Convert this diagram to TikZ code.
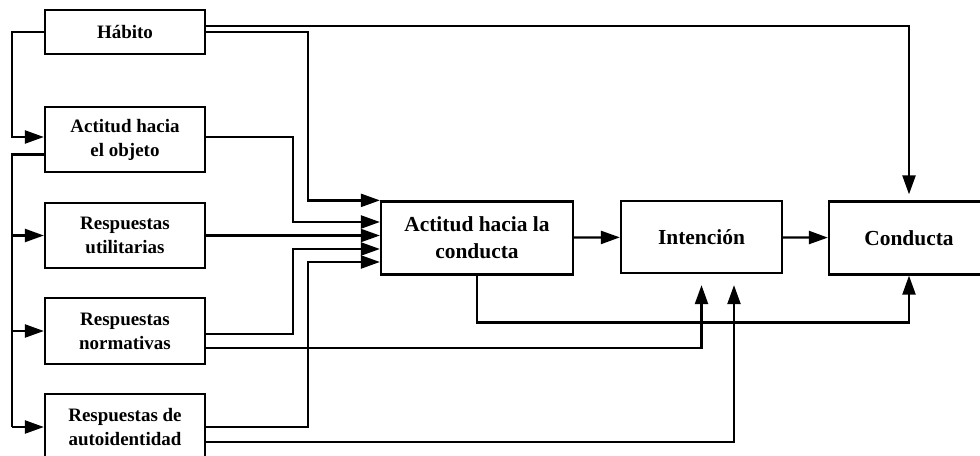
\documentclass[tikz,border=0pt]{standalone}
\usepackage{fontspec}
\setmainfont{Liberation Serif}
\usepackage{tikz}
\usetikzlibrary{arrows.meta, positioning, calc}

\begin{document}
\begin{tikzpicture}[x=0.02cm, y=-0.02cm,
    box/.style={draw, line width=1.3pt, align=center, inner sep=2pt, font=\bfseries},
    smallbox/.style={box, minimum width=3.2cm, minimum height=1.3cm, font=\fontsize{10.8}{13.6}\selectfont\bfseries},
    bigbox/.style={box, minimum height=1.46cm, font=\fontsize{12.2}{15.3}\selectfont\bfseries},
    arr/.style={line width=1.3pt, -{Triangle[length=0.38cm, width=0.26cm]}},
    line/.style={line width=1.3pt}]

    \useasboundingbox (0,0) rectangle (980,456);
    \clip (0,0) rectangle (980,456);

    % --- LEFT COLUMN (antecedentes) ---
    \node[smallbox, minimum height=0.88cm] (habito) at (125,32) {H\'abito};
    \node[smallbox] (objeto) at (125,139.5) {Actitud hacia\\ el objeto};
    \node[smallbox] (util) at (125,235.5) {Respuestas\\ utilitarias};
    \node[smallbox, minimum height=1.32cm] (norm) at (125,331) {Respuestas\\ normativas};
    \node[smallbox, minimum height=1.32cm] (auto) at (125,427) {Respuestas de\\ autoidentidad};

    % --- MAIN CHAIN ---
    \node[bigbox, minimum width=3.84cm] (actc) at (477,238) {Actitud hacia la\\ conducta};
    \node[bigbox, minimum width=3.22cm, minimum height=1.44cm] (inten) at (701.5,237) {Intenci\'on};
    \node[bigbox, minimum width=3.2cm] (cond) at (909,238) {Conducta};

    % puntos de paso de las lineas
    \coordinate (xl) at (12,0);
    \coordinate (xc) at (293,0);
    \coordinate (xd) at (308,0);
    \coordinate (in1) at ([yshift=0.32cm]actc.west);
    \coordinate (in3) at ([yshift=-0.22cm]actc.west);
    \coordinate (in4) at ([yshift=-0.48cm]actc.west);

    \draw[arr] (actc) -- (inten);
    \draw[arr] (inten) -- (cond);

    % Habito
    \draw[arr, shorten >=0.12cm] ([yshift=0.12cm]habito.east) -| (cond.north);
    \draw[arr] (habito.east) -| (xd |- actc.north west) -- (actc.north west);
    \draw[arr] (habito.west) -| ([yshift=0.05cm]xl |- objeto.west) -- ([yshift=0.05cm]objeto.west);

    % Actitud hacia el objeto
    \draw[line] ([yshift=-0.3cm]objeto.west) -| (xl |- auto.west);
    \draw[arr] (xl |- util.west) -- (util.west);
    \draw[arr] (xl |- norm.west) -- (norm.west);
    \draw[arr] (xl |- auto.west) -- (auto.west);
    \draw[arr] ([yshift=0.05cm]objeto.east) -| (xc |- in1) -- (in1);

    % Respuestas
    \draw[arr] (util.east) -- (util.east -| actc.west);
    \draw[arr] ([yshift=-0.06cm]norm.east) -| (xc |- in3) -- (in3);
    \draw[arr] (auto.east) -| (xd |- in4) -- (in4);
    \draw[arr, shorten >=0.22cm] ([yshift=-0.34cm]norm.east) -| (inten.south);
    \draw[arr, shorten >=0.22cm] ([yshift=-0.3cm]auto.east) -| ([xshift=0.65cm]inten.south);

    % Actitud hacia la conducta -> Conducta
    \draw[arr] (actc.south) -- ++(0,47) -| (cond.south);

\end{tikzpicture}
\end{document}
